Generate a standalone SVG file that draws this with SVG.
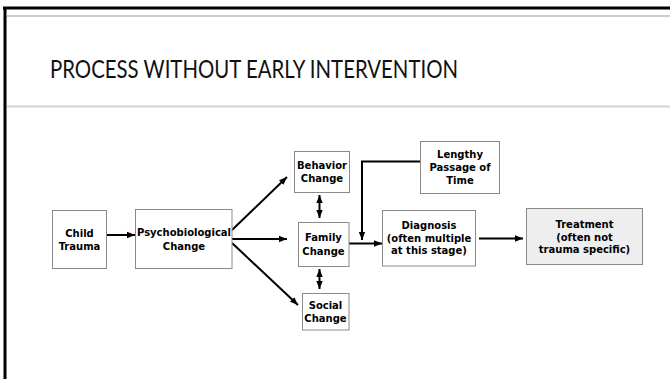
<svg xmlns="http://www.w3.org/2000/svg" width="670" height="379" viewBox="0 0 670 379">
<style>
.box{fill:#fff;stroke:#8a8a8a;stroke-width:1}
.gray{fill:#eeeeee}
.t{font-family:"DejaVu Sans",Verdana,sans-serif;font-weight:bold;font-size:10px;fill:#000;text-anchor:middle}
.c{stroke:#000;stroke-width:2;fill:none}
.title{font-family:Lato,"Open Sans",sans-serif;font-size:25px;fill:#111}
</style>
<defs>
<marker id="ah" viewBox="0 0 10 10" refX="10" refY="5" markerWidth="4" markerHeight="4" orient="auto-start-reverse" markerUnits="strokeWidth">
<path d="M0,1 L10,5 L0,9 z" fill="#000"/>
</marker>
</defs>
<rect width="670" height="379" fill="#fff"/>
<g id="frame">
<line x1="3" y1="8" x2="670" y2="8" stroke="#000" stroke-width="3"/>
<line x1="5" y1="7" x2="5" y2="379" stroke="#000" stroke-width="3"/>
<line x1="7" y1="16" x2="670" y2="16" stroke="#999" stroke-width="1"/>
<line x1="7" y1="106.5" x2="670" y2="106.5" stroke="#d4d4d4" stroke-width="2"/>
</g>
<g id="title">
<text class="title" x="50" y="78" textLength="408" lengthAdjust="spacingAndGlyphs">PROCESS WITHOUT EARLY INTERVENTION</text>
</g>
<g id="connectors">
<line class="c" x1="106" y1="235" x2="135" y2="235" marker-end="url(#ah)"/>
<line class="c" x1="232" y1="230" x2="287" y2="177" marker-end="url(#ah)"/>
<line class="c" x1="232" y1="239" x2="287" y2="239" marker-end="url(#ah)"/>
<line class="c" x1="232" y1="243" x2="298" y2="305" marker-end="url(#ah)"/>
<line class="c" x1="319.5" y1="195" x2="319.5" y2="218" marker-start="url(#ah)" marker-end="url(#ah)"/>
<line class="c" x1="319.5" y1="269" x2="319.5" y2="289" marker-start="url(#ah)" marker-end="url(#ah)"/>
<line class="c" x1="349" y1="243.5" x2="382" y2="243.5" marker-end="url(#ah)"/>
<polyline class="c" points="420,161.5 362,161.5 362,240" marker-end="url(#ah)"/>
<line class="c" x1="479" y1="238.5" x2="523" y2="238.5" marker-end="url(#ah)"/>
</g>
<g id="child-trauma">
<rect class="box" x="52.5" y="210.5" width="54" height="58"/>
<text class="t" x="79.5" y="236.5">Child</text>
<text class="t" x="79.5" y="250">Trauma</text>
</g>
<g id="psychobiological">
<rect class="box" x="135.5" y="209.5" width="96.5" height="59"/>
<text class="t" x="184" y="236">Psychobiological</text>
<text class="t" x="184" y="249.5">Change</text>
</g>
<g id="behavior">
<rect class="box" x="294.5" y="151.5" width="55" height="41"/>
<text class="t" x="322" y="169">Behavior</text>
<text class="t" x="322" y="182">Change</text>
</g>
<g id="family">
<rect class="box" x="298.5" y="222.5" width="50.5" height="44"/>
<text class="t" x="323.5" y="241">Family</text>
<text class="t" x="323.5" y="254.5">Change</text>
</g>
<g id="social">
<rect class="box" x="302.5" y="293.5" width="46.5" height="36.5"/>
<text class="t" x="325.5" y="309">Social</text>
<text class="t" x="325.5" y="322">Change</text>
</g>
<g id="lengthy">
<rect class="box" x="420.5" y="141.5" width="79" height="52"/>
<text class="t" x="460" y="158">Lengthy</text>
<text class="t" x="460" y="170.5">Passage of</text>
<text class="t" x="460" y="184">Time</text>
</g>
<g id="diagnosis">
<rect class="box" x="382.5" y="210.5" width="93" height="55.5"/>
<text class="t" x="429" y="229">Diagnosis</text>
<text class="t" x="429" y="241.5">(often multiple</text>
<text class="t" x="429" y="254">at this stage)</text>
</g>
<g id="treatment">
<rect class="box gray" x="526.5" y="208.5" width="116" height="56"/>
<text class="t" x="584.5" y="227.5">Treatment</text>
<text class="t" x="584.5" y="240.5">(often not</text>
<text class="t" x="584.5" y="253">trauma specific)</text>
</g>
</svg>
